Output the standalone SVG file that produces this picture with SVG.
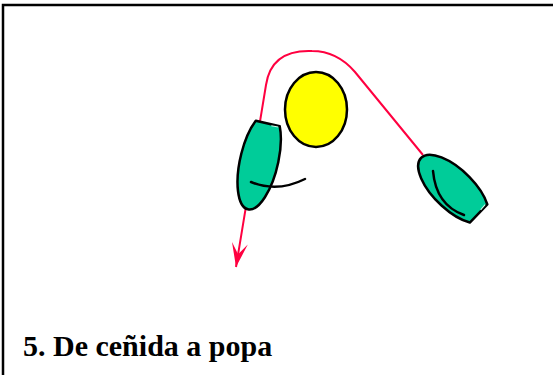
<svg xmlns="http://www.w3.org/2000/svg" width="553" height="375" viewBox="0 0 553 375">
<style>
.frame{fill:none;stroke:#000;stroke-width:2.5}
.track{fill:none;stroke:#ff0040;stroke-width:2}
.hull{fill:#00cc99;stroke:#000;stroke-width:2.5;stroke-linejoin:round}
.sail{fill:none;stroke:#000;stroke-width:2.5;stroke-linecap:round}
.mark{fill:#ffff00;stroke:#000;stroke-width:2.5}
</style>
<defs>
<marker id="arrow" markerUnits="userSpaceOnUse" markerWidth="30" markerHeight="20" viewBox="-26 -10 30 20" refX="0" refY="0" orient="auto">
<path d="M0,0 L-24,-8 L-13,0 L-24,8 Z" fill="#ff0040"/>
</marker>
</defs>
<rect width="553" height="375" fill="#fff"/>
<path class="frame" d="M3,375 L3,5 L553,5"/>
<g id="connectors">
<path class="track" d="M423,155 L355,72 C343,58 330,51 312,51 C288,50 270,58 266,85 L236,267" marker-end="url(#arrow)"/>
</g>
<g id="mark">
<ellipse class="mark" cx="316" cy="109.5" rx="31" ry="37.5"/>
</g>
<g id="boat-left" transform="translate(259.2,160.5) rotate(13)">
<path class="hull" d="M-12.3,-38 A19,50 0 1,0 12.3,-38 Z"/>
<line x1="4" y1="-36.5" x2="11" y2="-37" stroke="#ccffee" stroke-width="1"/>
</g>
<path class="sail" d="M251,182 Q277,193 305,179"/>
<g id="boat-right" transform="translate(453.4,189.2) rotate(134)">
<path class="hull" d="M-12.6,-35 A20,45 0 1,0 12.6,-35 Z"/>
<line x1="-11" y1="-33.5" x2="-4" y2="-34" stroke="#ccffee" stroke-width="1"/>
</g>
<path class="sail" d="M433,171 Q436,205 464,215"/>
<text x="23" y="356" font-family="'Liberation Serif', 'Times New Roman', serif" font-weight="bold" font-size="30" fill="#000">5. De ceñida a popa</text>
</svg>
